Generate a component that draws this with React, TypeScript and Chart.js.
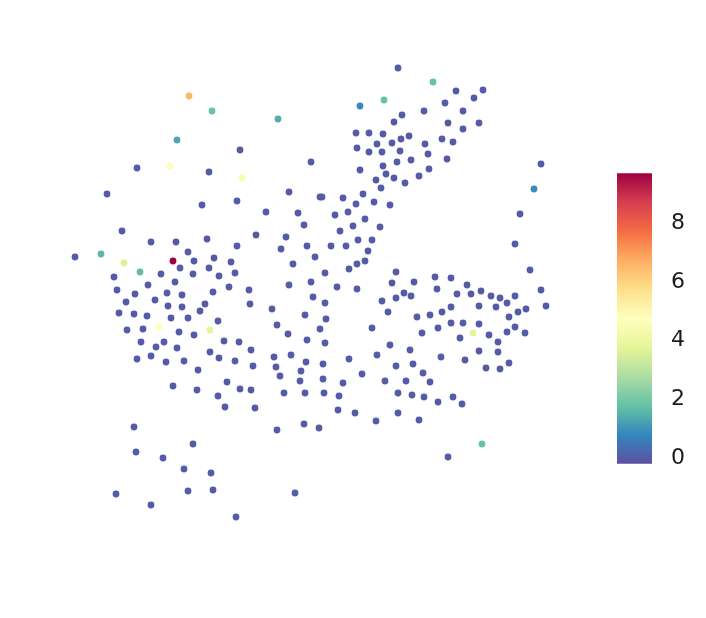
import React, { useEffect, useRef } from "react";
import { Chart, registerables } from "chart.js";

Chart.register(...registerables);

// Embedding coordinates (x, y) and the colour value of each point
const xValues = [
  189, 177, 137, 170, 107,
  212, 278, 240, 311, 209, 242, 289, 320, 202, 237, 266, 298,
  398, 433, 384, 360, 445, 402, 424, 394, 448, 356, 369, 383, 357, 377, 392, 401, 409, 425, 442, 369, 382, 400, 428, 447, 360, 383, 397, 411, 386, 394, 376, 405, 419, 429, 381, 363, 322, 343, 374, 356, 390, 348, 335,
  456, 483, 474, 463, 479, 463, 453, 541, 534, 520,
  122, 151, 176, 188, 75, 101, 124, 173, 140, 180, 114, 161, 148, 175, 117, 135, 167, 182, 126, 155, 168, 182, 119, 134, 147, 171, 188, 159, 127, 143, 179, 141, 164, 156, 177, 137, 151, 166, 184,
  304, 207, 256, 286, 237, 281, 307, 194, 214, 231, 315, 209, 193, 219, 235, 293, 229, 249, 289, 311, 213, 313, 205, 250, 200, 272, 218, 305, 210, 277, 194, 288, 320, 224, 239, 307, 251, 210, 219, 235, 274, 291, 306, 198, 253, 276, 301, 280,
  365, 353, 380, 340, 358, 372, 331, 346, 368, 349, 357, 365, 325, 396, 435, 451, 337, 357, 392, 414, 437, 325, 382, 396, 404, 411, 388, 417, 430, 442, 451, 326, 372, 422, 438, 451, 325, 390, 410, 377, 349, 441, 323, 396, 413, 362, 423,
  515, 530, 467, 541, 457, 471, 481, 491, 500, 515, 507, 546, 479, 496, 518, 526, 509, 463, 479, 473, 460, 489, 507, 515, 525, 498, 479, 498, 465, 509, 486, 500,
  173, 134, 136, 163, 184, 188, 116, 151,
  300, 227, 197, 240, 251, 218, 284, 305, 225, 255, 304, 319, 277, 193, 211, 213, 295, 236,
  323, 343, 385, 406, 430, 324, 339, 398, 412, 424, 438, 338, 355, 376, 398, 419, 448,
  453, 462, 482,
];
const yValues = [
  96, 140, 168, 166, 194,
  111, 119, 150, 162, 172, 178, 192, 197, 205, 201, 212, 213,
  68, 82, 100, 106, 103, 115, 111, 122, 123, 133, 133, 134, 148, 144, 143, 139, 136, 144, 139, 152, 152, 151, 154, 159, 170, 166, 162, 160, 174, 178, 180, 183, 176, 169, 188, 194, 197, 198, 202, 204, 205, 212, 215,
  91, 90, 98, 111, 123, 129, 142, 164, 189, 214,
  231, 242, 242, 252, 257, 254, 263, 261, 272, 268, 277, 274, 285, 282, 290, 294, 293, 295, 302, 300, 306, 307, 313, 314, 316, 318, 318, 327, 330, 329, 332, 342, 342, 347, 348, 359, 356, 362, 361,
  225, 239, 235, 237, 246, 249, 246, 261, 258, 262, 257, 268, 274, 276, 273, 264, 287, 290, 285, 282, 292, 297, 304, 304, 311, 309, 321, 315, 330, 325, 335, 334, 329, 341, 342, 340, 350, 352, 358, 361, 357, 355, 362, 370, 366, 367, 371, 376,
  219, 226, 227, 231, 240, 240, 246, 246, 251, 269, 264, 261, 273, 272, 277, 278, 287, 289, 283, 282, 289, 303, 301, 298, 293, 296, 312, 317, 315, 312, 307, 319, 328, 333, 328, 323, 343, 345, 350, 355, 359, 357, 364, 366, 364, 374, 373,
  244, 270, 285, 290, 294, 294, 291, 296, 298, 296, 303, 306, 306, 307, 312, 309, 317, 323, 324, 333, 338, 335, 332, 327, 333, 342, 351, 352, 360, 363, 368, 369,
  386, 427, 452, 458, 469, 491, 494, 505,
  381, 382, 390, 389, 390, 396, 393, 393, 407, 408, 424, 428, 430, 444, 473, 490, 493, 517,
  379, 383, 381, 381, 382, 393, 396, 393, 395, 397, 402, 410, 413, 421, 413, 420, 457,
  397, 404, 444,
];
const colorValues = [
  6.6, 1.3, 0, 4.8, 0,
  1.8, 1.4, 0, 0, 0, 4.4, 0, 0, 0, 0, 0, 0,
  0, 1.8, 1.8, 0.8, 0, 0, 0, 0, 0, 0, 0, 0, 0, 0, 0, 0, 0, 0, 0, 0, 0, 0, 0, 0, 0, 0, 0, 0, 0, 0, 0, 0, 0, 0, 0, 0, 0, 0, 0, 0, 0, 0, 0,
  0, 0, 0, 0, 0, 0, 0, 0, 0.9, 0,
  0, 0, 0, 0, 0, 1.6, 3.6, 9.7, 1.7, 0, 0, 0, 0, 0, 0, 0, 0, 0, 0, 0, 0, 0, 0, 0, 0, 0, 0, 4.7, 0, 0, 0, 0, 0, 0, 0, 0, 0, 0, 0,
  0, 0, 0, 0, 0, 0, 0, 0, 0, 0, 0, 0, 0, 0, 0, 0, 0, 0, 0, 0, 0, 0, 0, 0, 0, 0, 0, 0, 3.8, 0, 0, 0, 0, 0, 0, 0, 0, 0, 0, 0, 0, 0, 0, 0, 0, 0, 0, 0,
  0, 0, 0, 0, 0, 0, 0, 0, 0, 0, 0, 0, 0, 0, 0, 0, 0, 0, 0, 0, 0, 0, 0, 0, 0, 0, 0, 0, 0, 0, 0, 0, 0, 0, 0, 0, 0, 0, 0, 0, 0, 0, 0, 0, 0, 0, 0,
  0, 0, 0, 0, 0, 0, 0, 0, 0, 0, 0, 0, 0, 0, 0, 0, 0, 0, 0, 3.8, 0, 0, 0, 0, 0, 0, 0, 0, 0, 0, 0, 0,
  0, 0, 0, 0, 0, 0, 0, 0,
  0, 0, 0, 0, 0, 0, 0, 0, 0, 0, 0, 0, 0, 0, 0, 0, 0, 0,
  0, 0, 0, 0, 0, 0, 0, 0, 0, 0, 0, 0, 0, 0, 0, 0, 0,
  0, 0, 1.8,
];

const colorMin = -0.2;
const colorMax = 9.7;
const colorbarTicks = [0, 2, 4, 6, 8];

// Spectral_r stops
const spectralR = [
  "#5e4fa2", "#3288bd", "#66c2a5", "#abdda4", "#e6f598", "#ffffbf",
  "#fee08b", "#fdae61", "#f46d43", "#d53e4f", "#9e0142",
];

function hexToRgb(h: string) {
  return [parseInt(h.slice(1, 3), 16), parseInt(h.slice(3, 5), 16), parseInt(h.slice(5, 7), 16)];
}

function colorFor(v: number) {
  let t = (v - colorMin) / (colorMax - colorMin);
  t = Math.max(0, Math.min(1, t));
  const pos = t * (spectralR.length - 1);
  const i = Math.min(spectralR.length - 2, Math.floor(pos));
  const f = pos - i;
  const a = hexToRgb(spectralR[i]);
  const b = hexToRgb(spectralR[i + 1]);
  const c = a.map((ai, k) => Math.round(ai + (b[k] - ai) * f));
  return `rgb(${c[0]},${c[1]},${c[2]})`;
}

const FONT = "'DejaVu Sans', sans-serif";

export default function App() {
  const scatterRef = useRef<HTMLCanvasElement>(null);
  const barRef = useRef<HTMLCanvasElement>(null);

  useEffect(() => {
    const points = xValues.map((x, i) => ({ x, y: yValues[i] }));
    const colors = colorValues.map(colorFor);

    const scatter = new Chart(scatterRef.current!, {
      type: "scatter",
      data: {
        datasets: [
          {
            data: points,
            backgroundColor: colors,
            borderWidth: 0,
            pointRadius: 3.4,
            pointHoverRadius: 3.4,
          },
        ],
      },
      options: {
        responsive: false,
        animation: false,
        events: [],
        layout: { padding: 0, autoPadding: false } as any,
        plugins: { legend: { display: false }, tooltip: { enabled: false } },
        scales: {
          x: { type: "linear", min: 8, max: 588, display: false },
          y: { type: "linear", min: 8, max: 568, reverse: true, display: false },
        },
      },
    });

    const bar = new Chart(barRef.current!, {
      type: "bar",
      data: {
        labels: [""],
        datasets: [
          {
            data: [[colorMin, colorMax]] as any,
            borderWidth: 0,
            barPercentage: 1,
            categoryPercentage: 1,
            backgroundColor: (ctx: any) => {
              const area = ctx.chart.chartArea;
              if (!area) return spectralR[0];
              const g = ctx.chart.ctx.createLinearGradient(0, area.bottom, 0, area.top);
              spectralR.forEach((c, i) => g.addColorStop(i / (spectralR.length - 1), c));
              return g;
            },
          },
        ],
      },
      options: {
        responsive: false,
        animation: false,
        events: [],
        layout: { padding: { left: 5, top: 10, bottom: 10, right: 0 } },
        plugins: { legend: { display: false }, tooltip: { enabled: false } },
        scales: {
          x: { display: false },
          y: {
            position: "right",
            min: colorMin,
            max: colorMax,
            grid: { display: false, drawTicks: false },
            border: { display: false },
            afterBuildTicks: (scale: any) => {
              scale.ticks = colorbarTicks.map((v) => ({ value: v }));
            },
            afterFit: (scale: any) => {
              scale.width = 50;
            },
            ticks: {
              padding: 19,
              color: "#1a1a1a",
              font: { family: FONT, size: 22 },
            },
          },
        },
      },
    });

    return () => {
      scatter.destroy();
      bar.destroy();
    };
  }, []);

  return (
    <div style={{ position: "relative", width: 690, height: 602 }}>
      <canvas
        ref={scatterRef}
        width={580}
        height={560}
        style={{ position: "absolute", left: 0, top: 0, width: 580, height: 560 }}
      />
      <canvas
        ref={barRef}
        width={90}
        height={355}
        style={{ position: "absolute", left: 604, top: 133, width: 90, height: 355 }}
      />
    </div>
  );
}
